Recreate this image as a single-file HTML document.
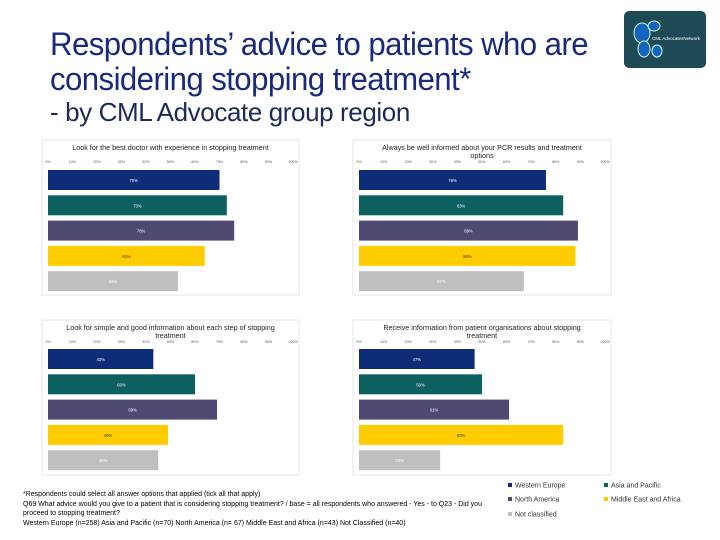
<!DOCTYPE html>
<html><head><meta charset="utf-8"><style>
body{margin:0;width:720px;height:540px;overflow:hidden;background:#fff;font-family:"Liberation Sans",sans-serif;position:relative}
.t{position:absolute;left:50px;color:#1a2a7a;white-space:nowrap;transform-origin:0 0}
</style></head><body>
<div class="t" style="top:27px;font-size:32px;line-height:35px;letter-spacing:-0.6px;transform:scaleX(0.975)">Respondents’ advice to patients who are<br>considering stopping treatment*</div>
<div class="t" style="top:97px;font-size:26px;color:#1a2a5a;letter-spacing:-0.4px">- by CML Advocate group region</div>
<svg style="position:absolute;left:624px;top:11px" width="82" height="57">
<rect width="82" height="57" rx="5" fill="#1e4a55"/>
<ellipse cx="18" cy="22" rx="8" ry="10" fill="#1565c0" stroke="#cfe" stroke-width="1"/>
<ellipse cx="30" cy="15" rx="6" ry="5" fill="#1565c0" stroke="#cfe"/>
<ellipse cx="20" cy="38" rx="6" ry="8" fill="#1565c0" stroke="#cfe"/>
<ellipse cx="33" cy="40" rx="5" ry="6" fill="#1565c0" stroke="#cfe"/>
<text x="28" y="29" font-size="4.5" fill="#fff">CML AdvocatesNetwork</text>
</svg>
<svg id="c" width="720" height="540" style="position:absolute;left:0;top:0"></svg>
<div style="position:absolute;left:23px;top:490px;font-size:7px;line-height:9.5px;color:#000;width:480px">*Respondents could select all answer options that applied (tick all that apply)<br>Q69 What advice would you give to a patient that is considering stopping treatment? / base = all respondents who answered - Yes - to Q23 - Did you proceed to stopping treatment?<br>Western Europe (n=258) Asia and Pacific (n=70) North America (n= 67) Middle East and Africa (n=43) Not Classified (n=40)</div>
<script>
const regions=["Western Europe","Asia and Pacific","North America","Middle East and Africa","Not classified"];
const colors=["#0d2d78","#0d6060","#4e4a72","#ffcc00","#bfbfbf"];
const titles=[["Look for the best doctor with experience in stopping treatment"],["Always be well informed about your PCR results and treatment","options"],["Look for simple and good information about each step of stopping","treatment"],["Receive information from patient organisations about stopping","treatment"]];
const values1=[70,73,76,64,53];
const values2=[76,83,89,88,67];
const values3=[43,60,69,49,45];
const values4=[47,50,61,83,33];
const ticks=[0,10,20,30,40,50,60,70,80,90,100];
const allVals=[values1,values2,values3,values4];
const panels=[{x0:48,x1:293,top:140},{x0:359,x1:605,top:140},{x0:48,x1:293,top:320},{x0:359,x1:605,top:320}];
const svg=document.getElementById('c');
const NS="http://www.w3.org/2000/svg";
function mk(t,a){const e=document.createElementNS(NS,t);for(const k in a)e.setAttribute(k,a[k]);svg.appendChild(e);return e;}
panels.forEach((p,i)=>{
  const xs=v=>p.x0+(p.x1-p.x0)*v/100;
  const box=mk('rect',{x:p.x0-6,y:p.top,width:p.x1-p.x0+12,height:155,fill:'none',stroke:'#d9d9d9','stroke-width':0.7});
  
  
  titles[i].forEach((ln,j)=>{
    const t=mk('text',{x:(p.x0+p.x1)/2,y:p.top+10+j*8,'font-size':7.2,'text-anchor':'middle',fill:'#222'});
    t.textContent=ln;
    
    
  });
  const ty=p.top+23;
  ticks.forEach(tk=>{
    const t=mk('text',{x:xs(tk),y:ty,'font-size':3.6,'text-anchor':'middle',fill:'#555'});
    t.textContent=tk+'%';
    
    
  });
  const by=p.top+(i<2?30:29);
  allVals[i].forEach((v,k)=>{
    const y=by+k*25.3;
    const r=mk('rect',{x:xs(0),y:y,width:xs(v)-xs(0),height:20,fill:colors[k]});
    
    
    const t=mk('text',{x:(xs(0)+xs(v))/2,y:y+12,'font-size':4.2,'text-anchor':'middle',fill:k==3?'#333':'#fff'});
    t.textContent=v+'%';
    
    
  });
});
const legPos=[[508,487],[604,487],[508,501],[604,501],[508,516]];
regions.forEach((r,k)=>{
  const [x,y]=legPos[k];
  const s=mk('rect',{x:x,y:y-4,width:4,height:4,fill:colors[k]});
  
  
  const t=mk('text',{x:x+7,y:y+0.5,'font-size':7,fill:'#333'});
  t.textContent=r;
  
  
});
</script>
</body></html>
